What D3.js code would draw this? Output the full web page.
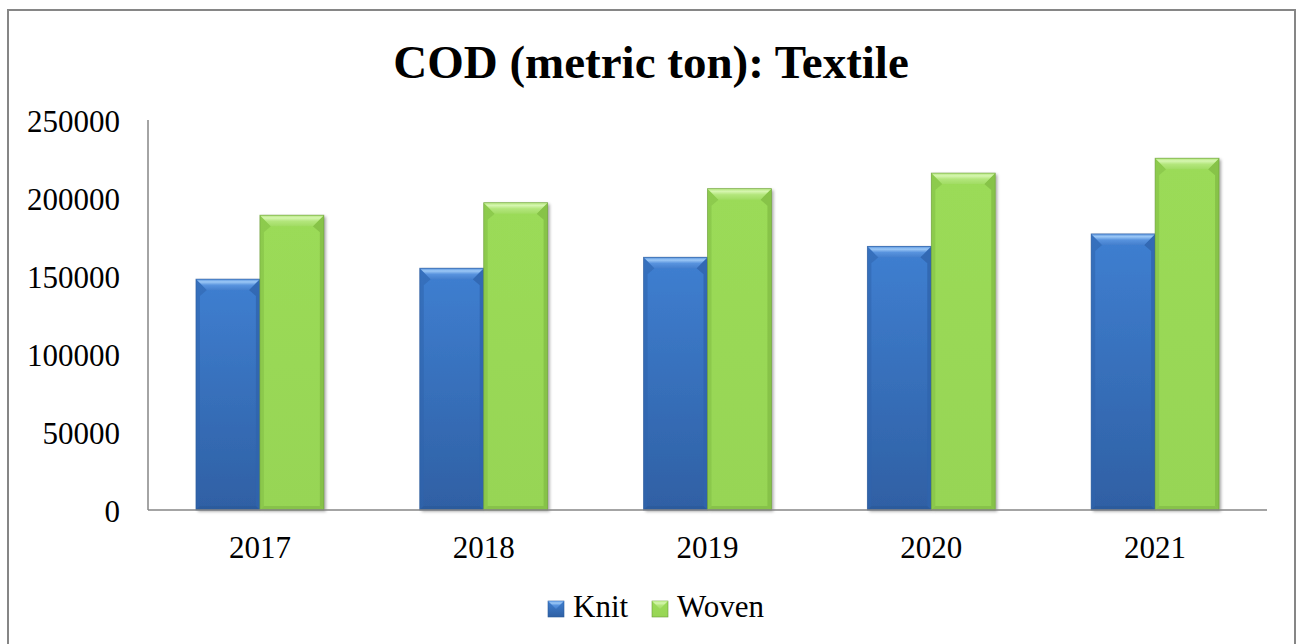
<!DOCTYPE html>
<html>
<head>
<meta charset="utf-8">
<script src="https://cdn.jsdelivr.net/npm/d3@7"></script>
<style>
  html, body { margin: 0; padding: 0; background: #fff; }
  svg { display: block; }
</style>
</head>
<body>
<svg id="chart" width="1297" height="644"></svg>
<script>
// COD load (metric ton) from the textile sub-sectors, by year
const years = ["2017", "2018", "2019", "2020", "2021"];
const seriesNames = ["Knit", "Woven"];
const knit = [148000, 155000, 162000, 169000, 177000];
const woven = [189000, 197000, 206000, 216000, 225500];
const yTicks = [0, 50000, 100000, 150000, 200000, 250000];

const W = 1297, H = 644;
const plot = { left: 148, right: 1267, top: 120, bottom: 510 };
const FONT = "'Liberation Serif', 'Times New Roman', serif";
const AXIS = "#868686";

const palette = {
  Knit:  { top: "#3f7fd1", bottom: "#2f60a4", hiA: "#9cc8f6", hiB: "#5893de", hiC: "#447fcd", side: "#2f64ad", foot: "#2a5898", edge: "#2b5a9a" },
  Woven: { top: "#9bdb58", bottom: "#97d555", hiA: "#d6f6b0", hiB: "#b3e67c", hiC: "#a1dc63", side: "#82bd45", foot: "#7db642", edge: "#6a9a39" }
};

const rows = years.map((y, i) => ({ year: y, Knit: knit[i], Woven: woven[i] }));

const svg = d3.select("#chart");
const defs = svg.append("defs");

// soft shadow under each bar
const sh = defs.append("filter").attr("id", "shadow")
  .attr("x", "-20%").attr("y", "-20%").attr("width", "140%").attr("height", "140%");
sh.append("feDropShadow").attr("dx", 2).attr("dy", 1.5).attr("stdDeviation", 1.8)
  .attr("flood-color", "#000").attr("flood-opacity", 0.35);

seriesNames.forEach(s => {
  const p = palette[s];
  const body = defs.append("linearGradient").attr("id", "body-" + s)
    .attr("x1", 0).attr("y1", 0).attr("x2", 0).attr("y2", 1);
  body.append("stop").attr("offset", "0%").attr("stop-color", p.top);
  body.append("stop").attr("offset", "100%").attr("stop-color", p.bottom);
  const hi = defs.append("linearGradient").attr("id", "hi-" + s)
    .attr("x1", 0).attr("y1", 0).attr("x2", 0).attr("y2", 1);
  hi.append("stop").attr("offset", "0%").attr("stop-color", p.hiB);
  hi.append("stop").attr("offset", "25%").attr("stop-color", p.hiA);
  hi.append("stop").attr("offset", "55%").attr("stop-color", p.hiB);
  hi.append("stop").attr("offset", "100%").attr("stop-color", p.hiC);
});

svg.append("rect").attr("width", W).attr("height", H).attr("fill", "#fff");

// chart frame
svg.append("rect")
  .attr("x", 8).attr("y", 10).attr("width", 1287).attr("height", 640)
  .attr("fill", "none").attr("stroke", AXIS).attr("stroke-width", 2);

// title
svg.append("text")
  .attr("x", 651).attr("y", 78)
  .attr("text-anchor", "middle")
  .attr("font-family", FONT).attr("font-weight", "bold").attr("font-size", 47)
  .attr("fill", "#000")
  .text("COD (metric ton): Textile");

// scales
const x0 = d3.scaleBand().domain(years).range([plot.left, plot.right]).padding(0);
const bw = x0.bandwidth() / 3.5;          // gap between groups = 150% of a bar
const x1 = d3.scaleBand().domain(seriesNames)
  .range([bw * 0.75, bw * 0.75 + 2 * bw]).padding(0);
const y = d3.scaleLinear().domain([0, 250000]).range([plot.bottom, plot.top]);

// bevelled bar
function drawBar(g, s, xL, w, yTop, yBot) {
  const p = palette[s];
  const xR = xL + w, b = 11, sd = 4;
  const h = yBot - yTop;
  const bb = Math.min(b, h / 2);
  g.append("rect").attr("x", xL).attr("y", yTop).attr("width", w).attr("height", h)
    .attr("fill", `url(#body-${s})`).attr("filter", "url(#shadow)");
  // left and right edges
  g.append("polygon").attr("points",
    [[xL, yTop], [xL + bb, yTop + bb], [xL + sd, yTop + bb + 6], [xL + sd, yBot - sd], [xL, yBot]].join(" "))
    .attr("fill", p.side).attr("opacity", 0.55);
  g.append("polygon").attr("points",
    [[xR, yTop], [xR - bb, yTop + bb], [xR - sd, yTop + bb + 6], [xR - sd, yBot - sd], [xR, yBot]].join(" "))
    .attr("fill", p.side).attr("opacity", 0.8);
  // foot
  g.append("polygon").attr("points",
    [[xL, yBot], [xL + sd, yBot - sd], [xR - sd, yBot - sd], [xR, yBot]].join(" "))
    .attr("fill", p.foot).attr("opacity", 0.6);
  // top highlight
  g.append("polygon").attr("points",
    [[xL, yTop], [xR, yTop], [xR - bb, yTop + bb], [xL + bb, yTop + bb]].join(" "))
    .attr("fill", `url(#hi-${s})`);
  g.append("rect").attr("x", xL).attr("y", yTop).attr("width", w).attr("height", h)
    .attr("fill", "none").attr("stroke", p.edge).attr("stroke-width", 0.8).attr("stroke-opacity", 0.7);
}

const groups = svg.append("g").selectAll("g").data(rows).join("g")
  .attr("transform", d => `translate(${x0(d.year)},0)`);
groups.each(function (d) {
  const g = d3.select(this);
  seriesNames.forEach(s => drawBar(g, s, x1(s), x1.bandwidth(), y(d[s]), y(0)));
});

// axes
const yAxis = svg.append("g").attr("transform", `translate(${plot.left},0)`)
  .call(d3.axisLeft(y).tickValues(yTicks).tickSize(0).tickPadding(28).tickFormat(d3.format("d")));
const xAxis = svg.append("g").attr("transform", `translate(0,${plot.bottom})`)
  .call(d3.axisBottom(x0).tickSize(0).tickPadding(26));
[yAxis, xAxis].forEach(a => {
  a.select(".domain").attr("stroke", AXIS).attr("stroke-width", 1.5);
  a.selectAll("text").attr("font-family", FONT).attr("font-size", 31).attr("fill", "#000");
});
yAxis.selectAll("text").attr("dy", "0.38em");
yAxis.select(".domain").attr("d", `M0,${plot.top}V${plot.bottom}`);
xAxis.select(".domain").attr("d", `M${plot.left},0H${plot.right}`);

// legend
const legend = svg.append("g");
const legendItems = [{ name: "Knit", x: 548 }, { name: "Woven", x: 652 }];
legendItems.forEach(it => {
  const p = palette[it.name];
  const g = legend.append("g").attr("transform", `translate(${it.x},601)`);
  g.append("rect").attr("width", 16).attr("height", 16).attr("fill", `url(#body-${it.name})`)
    .attr("stroke", p.edge).attr("stroke-width", 0.6);
  g.append("polygon").attr("points", "0,0 16,0 8,8").attr("fill", `url(#hi-${it.name})`);
  g.append("text").attr("x", 25).attr("y", 16)
    .attr("font-family", FONT).attr("font-size", 31).attr("fill", "#000")
    .text(it.name);
});
</script>
</body>
</html>
